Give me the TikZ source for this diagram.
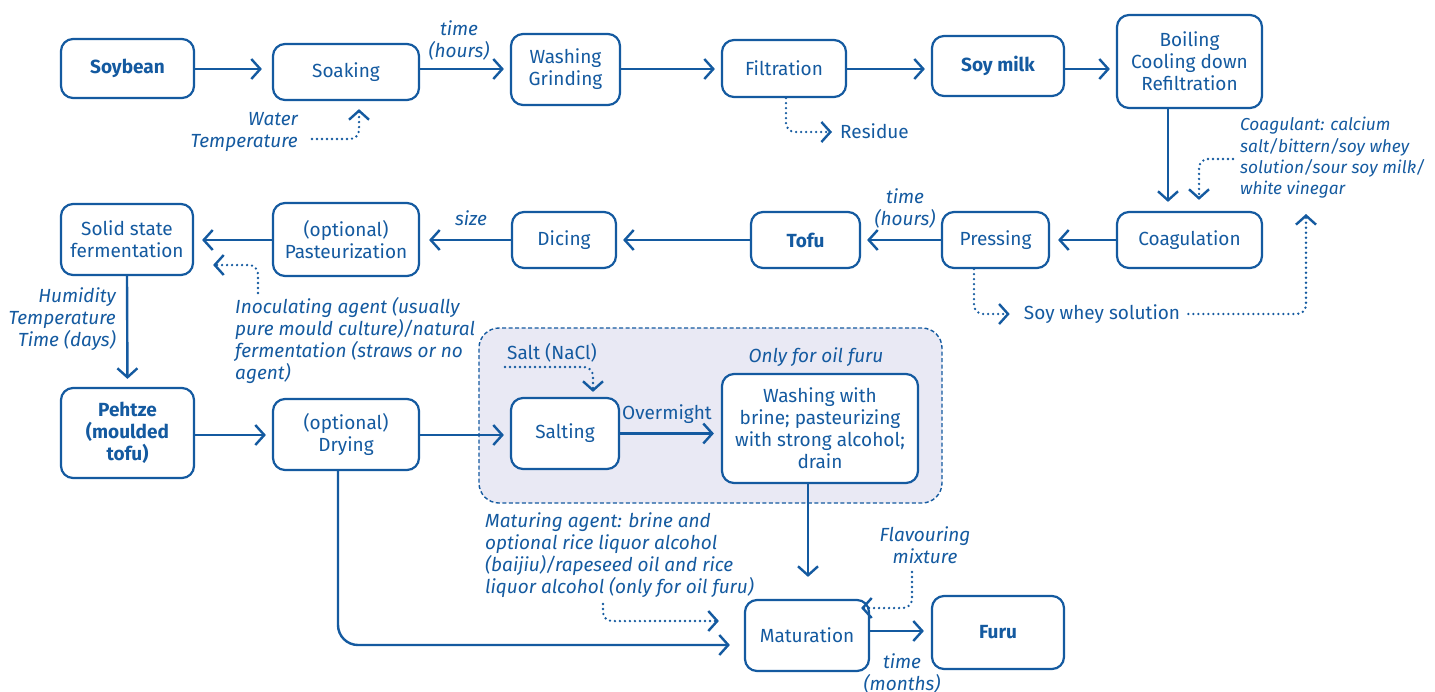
\documentclass[tikz,border=0pt]{standalone}
\usepackage{fontspec}
\setmainfont{Fira Sans}
\usetikzlibrary{arrows.meta,calc}
\definecolor{fc}{RGB}{20,90,160}
\definecolor{lav}{RGB}{233,233,244}
\newcommand\myfs{\fontsize{19}{22}\selectfont}
\begin{document}
\begin{tikzpicture}[x=1pt,y=-1pt,
  box/.style={draw=fc, line width=2.2pt, rounded corners=12pt, fill=white, align=center, inner sep=0pt, text=fc, font=\myfs},
  bbox/.style={box, font=\myfs\bfseries},
  lab/.style={text=fc, font=\myfs\itshape, inner sep=0pt},
  plain/.style={text=fc, font=\myfs, inner sep=0pt},
  flow/.style={draw=fc, line width=2.4pt, -{Straight Barb[length=9pt,width=20pt,line width=2.4pt]}},
  dotarr/.style={draw=fc, line width=2.6pt, line cap=round, dash pattern=on 0pt off 5pt, rounded corners=9pt,
     -{Straight Barb[length=9pt,width=20pt,line width=2.4pt]}}]
\useasboundingbox (0,0) rectangle (1435,691);
\fill[white] (0,0) rectangle (1435,691);
% group
\node[draw=fc, dash pattern=on 4pt off 2.5pt, line width=1.4pt, rounded corners=20pt, fill=lav,
  minimum width=463pt, minimum height=175pt, inner sep=0pt] (grp) at (710.5,415.5) {};
% boxes
\node[bbox, minimum width=133pt, minimum height=59pt] (soy) at (127.5,68.5) {Soybean};
\node[box, minimum width=146pt, minimum height=56pt] (soak) at (346,72) {Soaking};
\node[box, minimum width=109pt, minimum height=71pt] (wash) at (565.5,69.5) {Washing\\Grinding};
\node[box, minimum width=124pt, minimum height=57pt] (filt) at (784,68.5) {Filtration};
\node[bbox, minimum width=132pt, minimum height=60pt] (milk) at (998,66) {Soy milk};
\node[box, minimum width=145pt, minimum height=93pt] (boil) at (1189.5,61.5) {Boiling\\Cooling down\\Refiltration};
\node[box, minimum width=145pt, minimum height=56pt] (coag) at (1189.5,240) {Coagulation};
\node[box, minimum width=107pt, minimum height=56pt] (press) at (995.5,240) {Pressing};
\node[bbox, minimum width=109pt, minimum height=56pt] (tofu) at (805.5,240) {Tofu};
\node[box, minimum width=104pt, minimum height=56pt] (dice) at (564,240) {Dicing};
\node[box, minimum width=146pt, minimum height=73pt] (past) at (346,239.5) {(optional)\\Pasteurization};
\node[box, minimum width=132pt, minimum height=71pt] (ssf) at (127,239.5) {Solid state\\fermentation};
\node[bbox, minimum width=133pt, minimum height=90pt] (peh) at (127.5,433) {Pehtze\\(moulded\\tofu)};
\node[box, minimum width=146pt, minimum height=71pt] (dry) at (346,434.5) {(optional)\\Drying};
\node[box, minimum width=108pt, minimum height=71pt] (salt) at (565,433.5) {Salting};
\node[box, minimum width=196pt, minimum height=109pt] (wbr) at (820,428.5) {Washing with\\brine; pasteurizing\\with strong alcohol;\\drain};
\node[box, minimum width=124pt, minimum height=71pt] (mat) at (807,635.5) {Maturation};
\node[bbox, minimum width=132pt, minimum height=73pt] (furu) at (998,632.5) {Furu};
% labels
\node[lab, align=center] (timeA) at (459,40) {time\\(hours)};
\node[lab, align=right, anchor=east] (water) at (298,132) {Water\\Temperature};
\node[plain, anchor=west] (residue) at (840,131) {Residue};
\node[lab, align=left, anchor=west, font=\fontsize{17.3}{21.3}\selectfont\itshape] (coagt) at (1240,158) {Coagulant: calcium\\salt/bittern/soy whey\\solution/sour soy milk/\\white vinegar};
\node[lab, align=center] (timeB) at (905,208) {time\\(hours)};
\node[lab] (size) at (471,218) {size};
\node[plain] (whey) at (1102,314) {Soy whey solution};
\node[lab, align=right, anchor=east] (humid) at (116,319) {Humidity\\Temperature\\Time (days)};
\node[lab, align=left, anchor=west] (inoc) at (235,340) {Inoculating agent (usually\\pure mould culture)/natural\\fermentation (straws or no\\agent)};
\node[plain] (nacl) at (552,353) {Salt (NaCl)};
\node[plain] (overm) at (667,414) {Overmight};
\node[lab] (onlyoil) at (816,357) {Only for oil furu};
\node[lab, align=left, anchor=west] (matag) at (485,555) {Maturing agent: brine and\\optional rice liquor alcohol\\(baijiu)/rapeseed oil and rice\\liquor alcohol (only for oil furu)};
\node[lab, align=center] (flav) at (925,545) {Flavouring\\mixture};
\node[lab, align=center] (timeC) at (902,673) {time\\(months)};
% coordinates
\coordinate (r1) at (0,69);
\coordinate (r2) at (0,240);
\coordinate (r3) at (0,435);
\coordinate (cx) at (1168,0);
\coordinate (cx2) at (808,0);
\coordinate (dx) at (338,0);
\coordinate (r4) at (0,645);
\coordinate (r5) at (0,631);
% solid flow
\draw[flow, shorten >=10pt] (soy.east|-r1) -- (soak.west|-r1);
\draw[flow, shorten >=6pt] (soak.east|-r1) -- (wash.west|-r1);
\draw[flow, shorten >=6pt] (wash.east|-r1) -- (filt.west|-r1);
\draw[flow, shorten >=6pt] (filt.east|-r1) -- (milk.west|-r1);
\draw[flow, shorten >=6pt] (milk.east|-r1) -- (boil.west|-r1);
\draw[flow, shorten >=9pt] (boil.south-|cx) -- (coag.north-|cx);
\draw[flow, shorten >=8pt] (coag.west|-r2) -- (press.east|-r2);
\draw[flow, shorten >=6pt] (press.west|-r2) -- (tofu.east|-r2);
\draw[flow, shorten >=6pt] (tofu.west|-r2) -- (dice.east|-r2);
\draw[flow, shorten >=9pt] (dice.west|-r2) -- (past.east|-r2);
\draw[flow, shorten >=8pt] (past.west|-r2) -- (ssf.east|-r2);
\draw[flow, shorten >=8pt] (ssf.south) -- (peh.north);
\draw[flow, shorten >=6pt] (peh.east|-r3) -- (dry.west|-r3);
\draw[flow, shorten >=6pt] (dry.east|-r3) -- (salt.west|-r3);
\draw[flow, shorten >=7pt] (salt.east) -- (salt.east-|wbr.west);
\draw[flow, shorten >=22pt] (wbr.south-|cx2) -- (mat.north-|cx2);
\draw[flow, rounded corners=20pt, shorten >=14pt] (dry.south-|dx) -- (dx|-r4) -- (mat.west|-r4);
\draw[flow, shorten >=7pt] (mat.east|-r5) -- (furu.west|-r5);
% dotted
\coordinate (w1) at (312,139);
\coordinate (w2) at (359,139);
\draw[dotarr, shorten >=8pt] (w1) -- (w2) -- (w2|-soak.south);
\coordinate (rx) at (786,132);
\draw[dotarr, shorten >=8pt] (filt.south-|rx) -- (rx) -- (residue.west|-rx);
\coordinate (c1) at (1233,159);
\coordinate (c2) at (1199,159);
\draw[dotarr, shorten >=11pt] (c1) -- (c2) -- (c2|-coag.north);
\coordinate (px) at (974,314);
\draw[dotarr, shorten >=14pt] (press.south-|px) -- (px) -- (px-|whey.west);
\coordinate (wx) at (1306,314);
\coordinate (wt) at (1306,214);
\draw[dotarr] ([xshift=8pt]whey.east) -- (wx) -- (wt);
\coordinate (i1) at (258,293);
\coordinate (i2) at (258,265);
\draw[dotarr, shorten >=19pt] (i1) -- (i2) -- (i2-|ssf.east);
\coordinate (s1) at (505,367);
\coordinate (s2) at (593,367);
\draw[dotarr, shorten >=5pt] (s1) -- (s2) -- (s2|-salt.north);
\coordinate (m1) at (603,604);
\coordinate (m2) at (603,621);
\draw[dotarr, shorten >=25pt] (m1) -- (m2) -- (m2-|mat.west);
\coordinate (f1) at (912,572);
\coordinate (f2) at (912,608);
\draw[dotarr, shorten >=-9pt] (f1) -- (f2) -- (f2-|mat.east);
\end{tikzpicture}
\end{document}
